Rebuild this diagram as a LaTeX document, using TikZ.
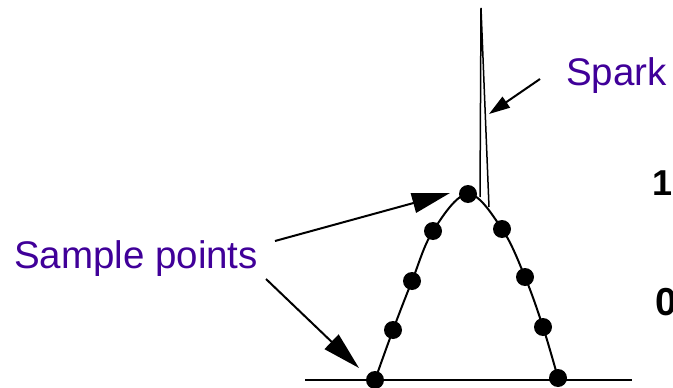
\documentclass[tikz,border=0pt]{standalone}
\usepackage{fontspec}
\setmainfont{Liberation Sans}
\usepackage{xcolor}
\usetikzlibrary{arrows.meta,positioning,calc}

\definecolor{labelpurple}{RGB}{64,0,153}

\tikzset{
  sample/.style={circle, fill=black, inner sep=0pt, minimum size=18pt},
  callout/.style={text=labelpurple, font=\fontsize{38.5}{40}\selectfont, inner sep=0pt},
  pointer/.style={line width=2pt, -{Triangle[length=38pt,width=20pt]}},
  axislabel/.style={font=\fontsize{36}{38}\selectfont\bfseries, inner sep=0pt}
}

\begin{document}
\begin{tikzpicture}[x=1pt,y=-1pt]
		\useasboundingbox (0,0) rectangle (673,388);
		\clip (0,0) rectangle (673,388);

		% baseline
		\draw[line width=2pt] (305,380) -- (632,380);

		% smooth pulse through the samples
		\draw[line width=2pt] plot[smooth, tension=0.6] coordinates {
			(375,380) (393,330) (412,281) (433,231) (468,194)
			(502,229) (525,277) (543,327) (558,378)};

		% the spark
		\draw[line width=1.5pt, line join=miter] (480,197) -- (481,8) -- (489,207);

		% sample points
		\foreach \name/\pos in {p1/{(375,380)}, p2/{(393,330)}, p3/{(412,281)},
			p4/{(433,231)}, p5/{(468,194)}, p6/{(502,229)}, p7/{(525,277)},
			p8/{(543,327)}, p9/{(558,378)}} {
		\node[sample] (\name) at \pos {};
		}

		% labels
		\node[callout, anchor=base] (samplelbl) at (136,268) {Sample points};
		\node[callout, anchor=base west] (sparklbl) at (566,85) {Spark};

		\node[axislabel, anchor=base west] (one) at (652,195) {1};
		\node[axislabel, font=\fontsize{39}{40}\selectfont\bfseries, anchor=base west] (zero) at (655,315) {0};

		% pointers
		\coordinate (s1) at (275,241);
		\coordinate (s2) at (266,279);
		\coordinate (k1) at (540,79);
		\coordinate (e1) at (450,193);
		\coordinate (e2) at (359,368);
		\coordinate (e3) at (489,114);

		\draw[pointer] (s1) -- (e1);
		\draw[pointer] (s2) -- (e2);
		\draw[line width=2pt, -{Triangle[length=21pt,width=13pt]}] (k1) -- (e3);
	\end{tikzpicture}
\end{document}
